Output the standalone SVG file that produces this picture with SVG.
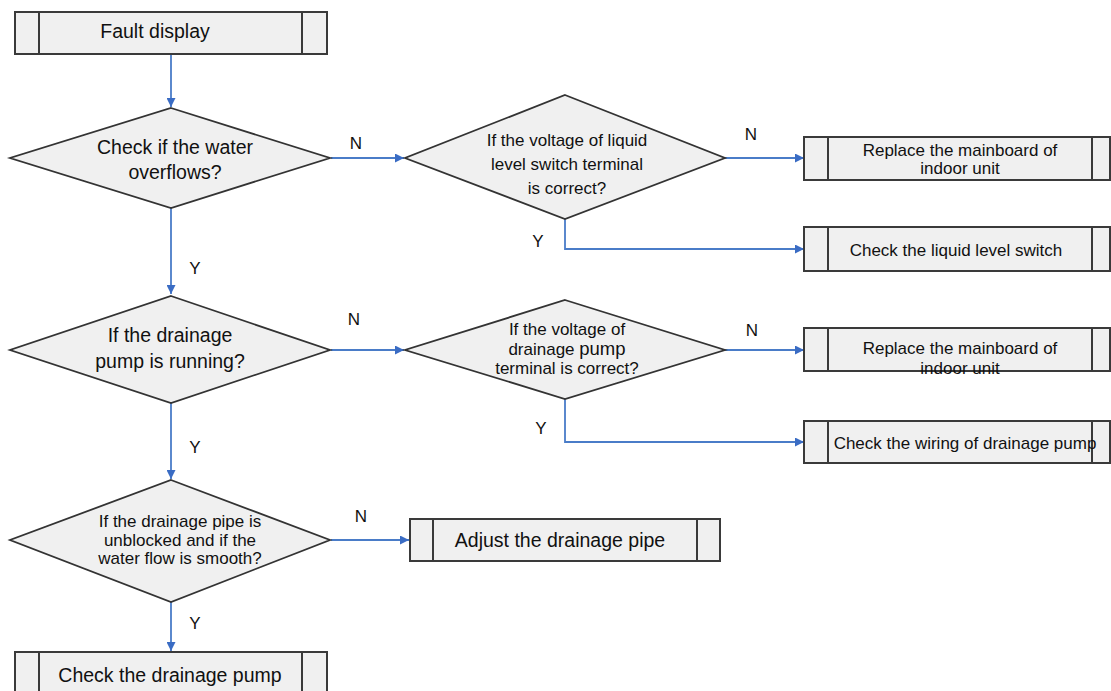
<svg xmlns="http://www.w3.org/2000/svg" width="1111" height="691" viewBox="0 0 1111 691">
<style>
.box{fill:#f0f0f0;stroke:#3a3a3a;stroke-width:2}
.in{stroke:#3a3a3a;stroke-width:2;fill:none}
.dia{fill:#f0f0f0;stroke:#333;stroke-width:1.8}
.c{fill:none;stroke:#4a7cc8;stroke-width:1.8}
text{font-family:"Liberation Sans",Arial,sans-serif;fill:#111;text-anchor:middle}
.t17{font-size:19.5px}
.t15{font-size:17px}
.t14{font-size:17px}
.lbl{font-size:17px}
</style>
<defs>
<marker id="ah" viewBox="0 0 10 10" refX="10" refY="5" markerWidth="9" markerHeight="9" markerUnits="userSpaceOnUse" orient="auto">
<path d="M0,0 L10,5 L0,10 z" fill="#3a6cc4"/>
</marker>
</defs>
<rect width="1111" height="691" fill="#fff"/>
<g id="connectors">
<path class="c" d="M171,54 V107" marker-end="url(#ah)"/>
<path class="c" d="M331,158 H404" marker-end="url(#ah)"/>
<path class="c" d="M725,158 H804" marker-end="url(#ah)"/>
<path class="c" d="M565,219 V249 H804" marker-end="url(#ah)"/>
<path class="c" d="M171,208 V294" marker-end="url(#ah)"/>
<path class="c" d="M331,350 H404" marker-end="url(#ah)"/>
<path class="c" d="M725,350 H804" marker-end="url(#ah)"/>
<path class="c" d="M565,399 V442 H804" marker-end="url(#ah)"/>
<path class="c" d="M171,403 V479" marker-end="url(#ah)"/>
<path class="c" d="M331,540 H409" marker-end="url(#ah)"/>
<path class="c" d="M171,602 V651" marker-end="url(#ah)"/>
<text class="lbl" x="356" y="149">N</text>
<text class="lbl" x="751" y="140">N</text>
<text class="lbl" x="538" y="247">Y</text>
<text class="lbl" x="195" y="274">Y</text>
<text class="lbl" x="354" y="325">N</text>
<text class="lbl" x="752" y="336">N</text>
<text class="lbl" x="541" y="434">Y</text>
<text class="lbl" x="195" y="453">Y</text>
<text class="lbl" x="361" y="522">N</text>
<text class="lbl" x="195" y="629">Y</text>
</g>
<g id="fault-display">
<rect class="box" x="15" y="12" width="312" height="42"/>
<path class="in" d="M39,12 V54 M302,12 V54"/>
<text class="t17" x="155" y="38">Fault display</text>
</g>
<g id="check-overflow">
<polygon class="dia" points="171,108 330,158 171,208 10,158"/>
<text class="t17" x="175" y="154">Check if the water</text>
<text class="t17" x="175" y="179">overflows?</text>
</g>
<g id="liquid-voltage">
<polygon class="dia" points="565,95 725,158 565,219 405,158"/>
<text class="t15" x="567" y="146">If the voltage of liquid</text>
<text class="t15" x="567" y="170">level switch terminal</text>
<text class="t15" x="567" y="194">is correct?</text>
</g>
<g id="replace-mainboard-1">
<rect class="box" x="804" y="137" width="306" height="43"/>
<path class="in" d="M828,137 V180 M1092,137 V180"/>
<text class="t15" x="960" y="156">Replace the mainboard of</text>
<text class="t15" x="960" y="174">indoor unit</text>
</g>
<g id="check-liquid-switch">
<rect class="box" x="804" y="227" width="306" height="44"/>
<path class="in" d="M828,227 V271 M1092,227 V271"/>
<text class="t15" x="956" y="256">Check the liquid level switch</text>
</g>
<g id="pump-running">
<polygon class="dia" points="171,296 330,350 171,403 10,350"/>
<text class="t17" x="170" y="342">If the drainage</text>
<text class="t17" x="170" y="368">pump is running?</text>
</g>
<g id="pump-voltage">
<polygon class="dia" points="565,300 725,350 565,399 405,350"/>
<text class="t15" x="567" y="335">If the voltage of</text>
<text class="t15" x="567" y="355"><tspan>drainage </tspan><tspan font-size="18.5">pump</tspan></text>
<text class="t15" x="567" y="374">terminal is correct?</text>
</g>
<g id="replace-mainboard-2">
<rect class="box" x="804" y="328" width="306" height="43"/>
<path class="in" d="M828,328 V371 M1092,328 V371"/>
<text class="t15" x="960" y="354">Replace the mainboard of</text>
<text class="t15" x="960" y="374">indoor unit</text>
</g>
<g id="check-wiring">
<rect class="box" x="804" y="421" width="306" height="42"/>
<path class="in" d="M828,421 V463 M1092,421 V463"/>
<text class="t15" x="965" y="449">Check the wiring of drainage pump</text>
</g>
<g id="pipe-unblocked">
<polygon class="dia" points="171,480 330,540 171,602 10,540"/>
<text class="t14" x="180" y="527">If the drainage pipe is</text>
<text class="t14" x="180" y="546">unblocked and if the</text>
<text class="t14" x="180" y="564">water flow is smooth?</text>
</g>
<g id="adjust-pipe">
<rect class="box" x="410" y="519" width="310" height="42"/>
<path class="in" d="M433,519 V561 M697,519 V561"/>
<text class="t17" x="560" y="547">Adjust the drainage pipe</text>
</g>
<g id="check-pump">
<rect class="box" x="15" y="652" width="312" height="44"/>
<path class="in" d="M39,652 V696 M302,652 V696"/>
<text class="t17" x="170" y="682">Check the drainage pump</text>
</g>
</svg>
